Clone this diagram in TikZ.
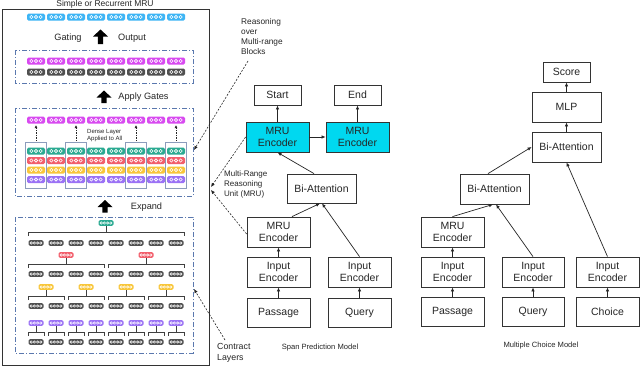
\documentclass[tikz,border=0pt]{standalone}
\usepackage{fontspec}
\setmainfont{Liberation Sans}
\usetikzlibrary{arrows.meta}
\definecolor{ccyan}{HTML}{3DB5F5}
\definecolor{cmag}{HTML}{D84AF0}
\definecolor{cgray}{HTML}{505050}
\definecolor{cteal}{HTML}{2BAA92}
\definecolor{cred}{HTML}{F25F6C}
\definecolor{cyel}{HTML}{F8C63A}
\definecolor{cpur}{HTML}{9B72F5}
\definecolor{dblue}{HTML}{5A78AE}
\definecolor{grpc}{HTML}{8C9CBC}
\definecolor{mrucyan}{HTML}{00D8F0}
\newcommand\cellA[3]{%
  \fill[#3, rounded corners=1.5pt] (#1-9,#2-3.5) rectangle (#1+9,#2+3.5);
  \foreach \k in {-1,0,1} \draw[white, line width=0.6pt] (#1+\k*4.6,#2) circle (1.6pt);
}
\newcommand\cellB[3]{%
  \fill[#3, rounded corners=1.5pt] (#1-7.5,#2-2.8) rectangle (#1+7.5,#2+2.8);
  \foreach \k in {-1.5,-0.5,0.5,1.5} \draw[white, line width=0.5pt] (#1+\k*3.2,#2) circle (1.2pt);
}
\newcommand\bracketT[5]{% x1 x2 y xc ytop
  \draw[treeline] (#1,#3+4) -- (#1,#3) -- (#2,#3) -- (#2,#3+4);
  \draw[treeline] (#4,#5) -- (#4,#3);
}
\newcommand\blockarrow[3]{% x ytop ybot
  \fill[black] (#1-7.5,#2+7) -- (#1,#2) -- (#1+7.5,#2+7) -- (#1+2.6,#2+7) -- (#1+2.6,#3) -- (#1-2.6,#3) -- (#1-2.6,#2+7) -- cycle;
}
\begin{document}
\begin{tikzpicture}[x=1pt,y=-1pt,
  treeline/.style={draw=black!75, line width=0.8pt},
  dd/.style={draw=dblue, line width=0.8pt, dash pattern=on 5pt off 2pt on 1pt off 2pt},
  box/.style={draw=black!80, line width=0.8pt, align=center, inner sep=0pt,
     font=\fontsize{10.5}{12.3}\selectfont, text=black!85},
  arr/.style={draw=black!85, line width=0.7pt, -{Latex[length=4pt,width=3.5pt]}},
  dconn/.style={draw=black!85, line width=0.6pt, dash pattern=on 2pt off 1.5pt, -{Latex[length=4pt,width=3.5pt]}},
  lbl/.style={align=left, inner sep=0pt, text=black!85},
]
\useasboundingbox (0,0) rectangle (640,367);
\fill[white] (0,0) rectangle (640,367);

% ---------- left panel ----------
\draw[black!80, line width=0.8pt] (2,9) rectangle (209,365);
\node[lbl, font=\fontsize{8.5}{10}\selectfont] (title) at (105,4) {Simple or Recurrent MRU};

\foreach \i in {0,...,7} { \cellA{36+20*\i}{17}{ccyan} }
\node[lbl, font=\fontsize{9.2}{11}\selectfont] (gating) at (68,38) {Gating};
\blockarrow{100.5}{29.5}{44}
\node[lbl, font=\fontsize{9.2}{11}\selectfont] (output) at (132,38) {Output};

\draw[dd] (15,50) rectangle (193,83);
\foreach \i in {0,...,7} { \cellA{36+20*\i}{61}{cmag} \cellA{36+20*\i}{72}{cgray} }

\blockarrow{104}{90.5}{103}
\node[lbl, font=\fontsize{9.2}{11}\selectfont] (apply) at (143.5,97) {Apply Gates};

\draw[dd] (15,108) rectangle (193,196);
\foreach \i in {0,...,7} { \cellA{36+20*\i}{120}{cmag} }
\foreach \c in {36,76,136,176} {
  \draw[grpc, line width=0.6pt] (\c-11,142) rectangle (\c+10,188);
  \draw[black!85, line width=0.6pt, dash pattern=on 1.5pt off 1pt, -{Latex[length=3pt,width=3pt]}] (\c,141) -- (\c,125);
}
\foreach \i in {0,...,7} {
  \cellA{36+20*\i}{151}{cteal}
  \cellA{36+20*\i}{160.5}{cred}
  \cellA{36+20*\i}{170}{cyel}
  \cellA{36+20*\i}{179.5}{cpur}
}
\node[lbl, anchor=north west, font=\fontsize{6}{7}\selectfont] (dense) at (87,129) {Dense Layer\\Applied to All};

\blockarrow{105}{200}{212.5}
\node[lbl, font=\fontsize{9.2}{11}\selectfont] (expand) at (146.5,207) {Expand};

\draw[dd] (15,217) rectangle (193,353);
% level 1
\cellB{106}{223}{cteal}
\bracketT{28}{184}{232}{106}{226}
\foreach \i in {0,...,7} { \cellB{36+20*\i}{243}{cgray} }
% level 2
\foreach \c in {66,146} { \cellB{\c}{255}{cred} \bracketT{\c-38}{\c+38}{264}{\c}{258} }
\foreach \i in {0,...,7} { \cellB{36+20*\i}{274}{cgray} }
% level 3
\foreach \c in {46,86,126,166} { \cellB{\c}{287}{cyel} \bracketT{\c-18}{\c+18}{296}{\c}{290} }
\foreach \i in {0,...,7} { \cellB{36+20*\i}{306}{cgray} }
% level 4
\foreach \i in {0,...,7} { \cellB{36+20*\i}{323}{cpur} \bracketT{36+20*\i-8}{36+20*\i+8}{332}{36+20*\i}{326} }
\foreach \i in {0,...,7} { \cellB{36+20*\i}{342}{cgray} }

% ---------- labels for connectors ----------
\node[lbl, anchor=north west, font=\fontsize{8.3}{10}\selectfont] (reason) at (241,18) {Reasoning\\over\\Multi-range\\Blocks};
\node[lbl, anchor=north west, font=\fontsize{8}{10}\selectfont] (mrulbl) at (224,171) {Multi-Range\\Reasoning\\Unit (MRU)};
\node[lbl, anchor=north west, font=\fontsize{8.8}{11}\selectfont] (contract) at (217,343) {Contract\\Layers};

% ---------- span prediction model ----------
\node[box, minimum width=47pt, minimum height=20pt] (start) at (277.5,95) {Start};
\node[box, minimum width=47pt, minimum height=20pt] (end) at (357.5,95) {End};
\node[box, fill=mrucyan, minimum width=63pt, minimum height=30pt] (mru1) at (277.5,137) {MRU\\Encoder};
\node[box, fill=mrucyan, minimum width=63pt, minimum height=30pt] (mru2) at (357.5,137) {MRU\\Encoder};
\node[box, minimum width=69pt, minimum height=29pt] (biatt) at (321.5,188.5) {Bi-Attention};
\node[box, minimum width=63pt, minimum height=30pt] (mruS) at (278.5,232) {MRU\\Encoder};
\node[box, minimum width=63pt, minimum height=30pt] (inpS) at (278.5,272) {Input\\Encoder};
\node[box, minimum width=63pt, minimum height=30pt] (inqS) at (359.5,272) {Input\\Encoder};
\node[box, minimum width=63pt, minimum height=29pt] (pasS) at (278.5,312.5) {Passage};
\node[box, minimum width=63pt, minimum height=29pt] (qryS) at (359.5,312.5) {Query};
\node[lbl, font=\fontsize{7.6}{9}\selectfont] (spanlbl) at (320,348) {Span Prediction Model};

\draw[arr] (mru1.north) -- (start.south);
\draw[arr] (mru2.north) -- (end.south);
\draw[arr] (mru1.east) -- (mru2.west);
\draw[arr] ([xshift=-7.5pt]biatt.north) -- (mru1.south);
\draw[arr] ([xshift=13.5pt]mruS.north) -- ([xshift=-1.5pt]biatt.south);
\draw[arr] (inqS.north) -- ([xshift=0.5pt]biatt.south);
\draw[arr] (inpS.north) -- (mruS.south);
\draw[arr] (pasS.north) -- (inpS.south);
\draw[arr] (qryS.north) -- (inqS.south);

% ---------- multiple choice model ----------
\node[box, minimum width=47pt, minimum height=20pt] (score) at (566.5,72) {Score};
\node[box, minimum width=69pt, minimum height=30pt] (mlp) at (566.5,107) {MLP};
\node[box, minimum width=69pt, minimum height=30pt] (bi2) at (566.5,147) {Bi-Attention};
\node[box, minimum width=69pt, minimum height=30pt] (bi1) at (494.5,189) {Bi-Attention};
\node[box, minimum width=63pt, minimum height=30pt] (mruM) at (452.5,232) {MRU\\Encoder};
\node[box, minimum width=63pt, minimum height=30pt] (inpM) at (452.5,272) {Input\\Encoder};
\node[box, minimum width=63pt, minimum height=29pt] (pasM) at (452.5,311.5) {Passage};
\node[box, minimum width=62pt, minimum height=30pt] (inqM) at (533,272) {Input\\Encoder};
\node[box, minimum width=62pt, minimum height=29pt] (qryM) at (533,311.5) {Query};
\node[box, minimum width=63pt, minimum height=30pt] (incM) at (607.5,272) {Input\\Encoder};
\node[box, minimum width=63pt, minimum height=29pt] (choM) at (607.5,311.5) {Choice};
\node[lbl, font=\fontsize{7.6}{9}\selectfont] (mclbl) at (541,346) {Multiple Choice Model};

\draw[arr] (mlp.north) -- (score.south);
\draw[arr] (bi2.north) -- (mlp.south);
\draw[arr] ([xshift=-6.5pt]bi1.north) -- (bi2.west);
\draw[arr] (incM.north) -- (bi2.south);
\draw[arr] (mruM.north) -- ([xshift=-1.5pt]bi1.south);
\draw[arr] (inqM.north) -- ([xshift=1.5pt]bi1.south);
\draw[arr] (inpM.north) -- (mruM.south);
\draw[arr] (pasM.north) -- (inpM.south);
\draw[arr] (qryM.north) -- (inqM.south);
\draw[arr] (choM.north) -- (incM.south);

% ---------- dashed pointers ----------
\coordinate (rfrom) at (248,61);
\coordinate (rto) at (194,150);
\draw[dconn] (rfrom) -- (rto);
\coordinate (mruto1) at (211,187);
\coordinate (mruto2) at (211,190);
\draw[dconn] (mru1.west) -- (mruto1);
\draw[dconn] ([yshift=-2pt]mruS.west) -- (mruto2);
\coordinate (cfrom) at (225,340);
\coordinate (cto) at (194,289);
\draw[dconn] (cfrom) -- (cto);
\end{tikzpicture}
\end{document}
